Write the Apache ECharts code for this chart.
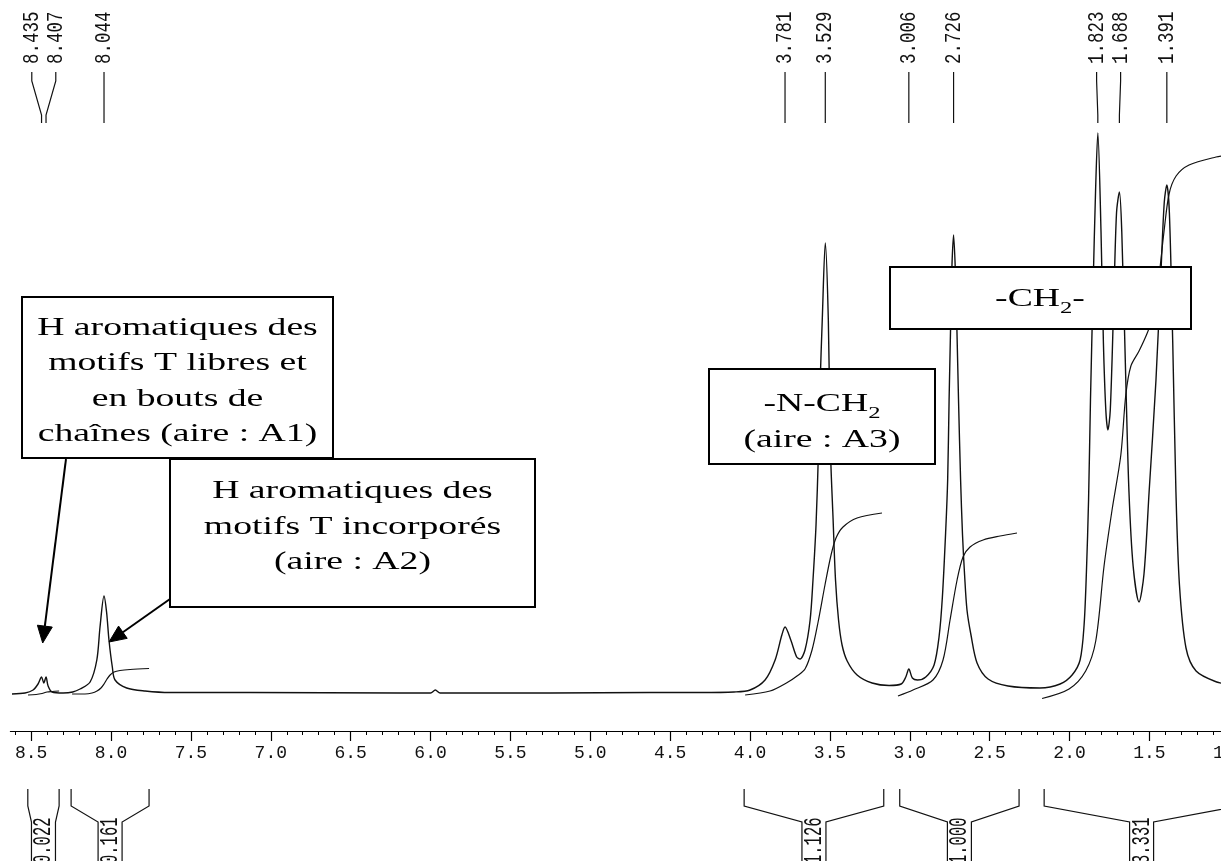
<!DOCTYPE html>
<html><head><meta charset="utf-8">
<script src="https://cdn.jsdelivr.net/npm/echarts@6/dist/echarts.min.js"></script>
<style>html,body{margin:0;padding:0;background:#fff;}#c{width:1221px;height:861px;}</style>
</head><body><div id="c"></div>
<script>
// ---- DATA (chemical shift in ppm, intensity in arbitrary units) ----
const spectrum = [
 [8.620,-1],[8.538,0],[8.488,3],[8.457,9],[8.435,16],[8.421,10],[8.407,16],[8.394,7],[8.369,1],[8.300,0],
 [8.240,1],[8.194,4],[8.131,11],[8.089,33],[8.069,66],[8.044,97],[8.028,81],[8.013,53],[7.992,26],[7.975,13],
 [7.902,5],[7.787,2],[7.631,0.5],[7.130,0.5],[6.190,0],[6.000,0],[5.970,3],[5.940,0],[5.250,0],[4.630,0.5],
 [4.310,0.5],[4.100,1],[4.000,3],[3.906,13],[3.843,33],[3.801,58],[3.781,66],[3.745,53],[3.708,36],[3.687,34],
 [3.656,43],[3.624,73],[3.606,113],[3.587,168],[3.572,240],[3.562,306],[3.548,373],[3.529,450],[3.510,373],[3.496,240],
 [3.480,173],[3.465,113],[3.446,73],[3.424,48],[3.392,32],[3.330,18],[3.236,10],[3.130,7.5],[3.054,9],[3.025,16],
 [3.006,24],[2.984,15],[2.952,13],[2.900,16],[2.848,28],[2.817,56],[2.796,96],[2.775,163],[2.763,213],[2.754,293],
 [2.745,363],[2.737,423],[2.726,458],[2.715,423],[2.705,363],[2.695,293],[2.682,213],[2.670,158],[2.657,118],[2.642,83],
 [2.617,58],[2.579,30],[2.510,14],[2.385,7],[2.185,5],[2.059,9],[1.984,18],[1.934,33],[1.909,68],[1.894,123],
 [1.881,193],[1.869,293],[1.853,403],[1.837,503],[1.823,560],[1.803,461],[1.788,350],[1.773,283],[1.760,263],[1.745,283],
 [1.724,387],[1.706,480],[1.688,501],[1.673,461],[1.648,313],[1.628,201],[1.602,127],[1.565,91],[1.534,119],[1.502,201],
 [1.459,313],[1.427,424],[1.407,491],[1.391,508],[1.375,480],[1.354,350],[1.334,201],[1.312,108],[1.271,45],[1.208,22],
 [1.079,11],[1.000,9]
];
const integralA = [[8.520,-2],[8.469,-1.5],[8.432,-0.5],[8.401,1],[8.369,1.5],[8.325,2]];
const integralB = [[8.244,-1],[8.163,-1],[8.119,0],[8.088,2],[8.063,5],[8.044,9],[8.025,14],[8.006,18],[7.981,21],[7.944,22.5],[7.881,23.5],[7.762,24.5]];
const integralC = [[4.031,-2],[3.875,2],[3.762,11],[3.706,17],[3.656,24],[3.612,43],[3.574,71],[3.531,108],[3.493,138],[3.462,155],[3.418,166],[3.330,175],[3.174,180]];
const integralD = [[3.074,-3],[2.980,3],[2.855,13],[2.792,33],[2.748,73],[2.704,113],[2.667,136],[2.623,146],[2.541,153],[2.435,157],[2.329,160]];
const integralE = [[2.172,-5.5],[2.003,4],[1.899,22],[1.836,52],[1.784,127],[1.734,183],[1.679,238],[1.648,298],[1.616,327],[1.565,342],[1.511,361],[1.480,376],[1.440,417],[1.409,461],[1.377,499],[1.333,517],[1.252,528],[1.083,536],[1.000,538]];

const peakShifts = [8.435, 8.407, 8.044, 3.781, 3.529, 3.006, 2.726, 1.823, 1.688, 1.391];

const integralStart  = [8.521, 8.250, 4.037, 3.063, 2.159];
const integralEnd    = [8.325, 7.762, 3.163, 2.316, 0.939];
const integralValues = ['0.022', '0.161', '1.126', '1.000', '3.331'];

const majorTicks = [1.0,1.5,2.0,2.5,3.0,3.5,4.0,4.5,5.0,5.5,6.0,6.5,7.0,7.5,8.0,8.5];
const minorTicks = [];
for (let k = 10; k <= 86; k++) minorTicks.push(k / 10);

// ---- CHART ----
const chart = echarts.init(document.getElementById('c'), null, {renderer: 'canvas'});
const MONO = '"Liberation Mono", "DejaVu Sans Mono", monospace';
const SERIF = '"Liberation Serif", "DejaVu Serif", serif';

function lineSeries(data, width) {
  return {type: 'line', data: data, showSymbol: false, smooth: 0.3, silent: true,
    lineStyle: {color: '#111', width: width}, z: 3};
}

const option = {
  backgroundColor: '#fff',
  animation: false,
  grid: {left: 10.4, top: 0, width: 1218.9, height: 731, outerBoundsMode: 'none', containLabel: false},
  xAxis: [
    {type: 'value', min: 1.0, max: 8.63, inverse: true, position: 'bottom',
     splitLine: {show: false},
     axisLine: {onZero: false, lineStyle: {color: '#000', width: 1.2}},
     axisTick: {customValues: majorTicks, length: 10, lineStyle: {color: '#000', width: 1.2}},
     axisLabel: {customValues: majorTicks, formatter: v => v.toFixed(1), fontFamily: MONO,
                 fontSize: 18, color: '#111', margin: 13, hideOverlap: false}},
    {type: 'value', min: 1.0, max: 8.63, inverse: true, position: 'bottom',
     splitLine: {show: false},
     axisLine: {show: false, onZero: false},
     axisTick: {customValues: minorTicks, length: 4, lineStyle: {color: '#000', width: 1}},
     axisLabel: {show: false}}
  ],
  yAxis: {type: 'value', min: -38, max: 693, show: false},
  series: [
    lineSeries(spectrum, 1.4),
    lineSeries(integralA, 1.2),
    lineSeries(integralB, 1.2),
    lineSeries(integralC, 1.2),
    lineSeries(integralD, 1.2),
    lineSeries(integralE, 1.2),
    {
      type: 'custom', silent: true, z: 5,
      data: peakShifts.map(v => [v, 0]),
      encode: {x: 0, y: 1},
      renderItem: function (params, api) {
        const i = params.dataIndex;
        const px = peakShifts.map(v => api.coord([v, 0])[0]);
        const order = px.map((x, k) => k).sort((a, b) => px[a] - px[b]);
        const lx = px.slice();
        const MIN = 24;
        let g = [order[0]];
        const flush = function (grp) {
          const mean = grp.reduce((s, k) => s + px[k], 0) / grp.length;
          grp.forEach((k, j) => { lx[k] = mean + (j - (grp.length - 1) / 2) * MIN; });
        };
        for (let j = 1; j < order.length; j++) {
          const k = order[j];
          if (px[k] - px[g[g.length - 1]] < MIN) g.push(k); else { if (g.length > 1) flush(g); g = [k]; }
        }
        if (g.length > 1) flush(g);
        return {type: 'group', children: [
          {type: 'polyline', shape: {points: [[lx[i], 72], [lx[i], 81], [px[i], 115], [px[i], 123]]},
           style: {stroke: '#111', lineWidth: 1.2, fill: null}},
          {type: 'text', x: lx[i], y: 64, rotation: Math.PI / 2, scaleY: 1.3,
           style: {text: peakShifts[i].toFixed(3), font: '17.5px ' + MONO, fill: '#111',
                   align: 'left', verticalAlign: 'middle'}}
        ]};
      }
    },
    {
      type: 'custom', silent: true, z: 5,
      data: integralStart.map(v => [v, 0]),
      encode: {x: 0, y: 1},
      renderItem: function (params, api) {
        const i = params.dataIndex;
        const x1 = api.coord([integralStart[i], 0])[0];
        const x2 = api.coord([integralEnd[i], 0])[0];
        const cx = (x1 + x2) / 2;
        const st = {stroke: '#111', lineWidth: 1.2, fill: null};
        return {type: 'group', children: [
          {type: 'polyline', shape: {points: [[x1, 789], [x1, 806], [cx - 12, 822], [cx - 12, 880]]}, style: st},
          {type: 'polyline', shape: {points: [[x2, 789], [x2, 806], [cx + 12, 822], [cx + 12, 880]]}, style: st},
          {type: 'text', x: cx, y: 864, rotation: Math.PI / 2, scaleY: 1.7,
           style: {text: integralValues[i], font: '15.5px ' + MONO, fill: '#111',
                   align: 'left', verticalAlign: 'middle'}}
        ]};
      }
    }
  ],
  graphic: []
};

// ---- annotations ----
const boxes = [
  {l: 22, t: 297, r: 333, b: 458, cx: 177.5, cy: 381,
   text: 'H aromatiques des\nmotifs T libres et\nen bouts de\nchaînes (aire : A1)'},
  {l: 170, t: 459, r: 535, b: 607, cx: 352.5, cy: 527,
   text: 'H aromatiques des\nmotifs T incorporés\n(aire : A2)'},
  {l: 709, t: 369, r: 935, b: 464, cx: 822, cy: 422,
   text: '{n|-N-CH}{s|2}\n{n|(aire : A3)}', rich: true},
  {l: 890, t: 267, r: 1191, b: 329, cx: 1040, cy: 299,
   text: '{n|-CH}{s|2}{n|-}', rich: true}
];
let z = 100;
boxes.forEach(bx => {
  option.graphic.push({type: 'rect', z: z++, silent: true,
    shape: {x: bx.l, y: bx.t, width: bx.r - bx.l, height: bx.b - bx.t},
    style: {fill: '#fff', stroke: '#000', lineWidth: 2}});
  const style = {text: bx.text, font: '26px ' + SERIF, fill: '#000', align: 'center',
                 verticalAlign: 'middle', lineHeight: 35.5};
  if (bx.rich) {
    style.rich = {
      n: {fontSize: 26, fontFamily: SERIF, lineHeight: 36, fill: '#000'},
      s: {fontSize: 17, fontFamily: SERIF, lineHeight: 20, verticalAlign: 'bottom', fill: '#000'}
    };
  }
  option.graphic.push({type: 'group', x: bx.cx, y: bx.cy, scaleX: 1.45, z: z++, silent: true,
    children: [{type: 'text', z: z, style: style}]});
});

const arrows = [
  [66, 459, 42.7, 643],
  [170, 599, 109, 642]
];
arrows.forEach(a => {
  const [x1, y1, x2, y2] = a;
  const dx = x2 - x1, dy = y2 - y1, len = Math.hypot(dx, dy);
  const ux = dx / len, uy = dy / len, HL = 17, HW = 7.5;
  const bx = x2 - ux * HL, by = y2 - uy * HL;
  option.graphic.push({type: 'line', z: 120, silent: true,
    shape: {x1: x1, y1: y1, x2: bx, y2: by}, style: {stroke: '#000', lineWidth: 2}});
  option.graphic.push({type: 'polygon', z: 120, silent: true,
    shape: {points: [[x2, y2], [bx - uy * HW, by + ux * HW], [bx + uy * HW, by - ux * HW]]},
    style: {fill: '#000', stroke: '#000', lineWidth: 1}});
});

chart.setOption(option);
</script>
</body></html>
